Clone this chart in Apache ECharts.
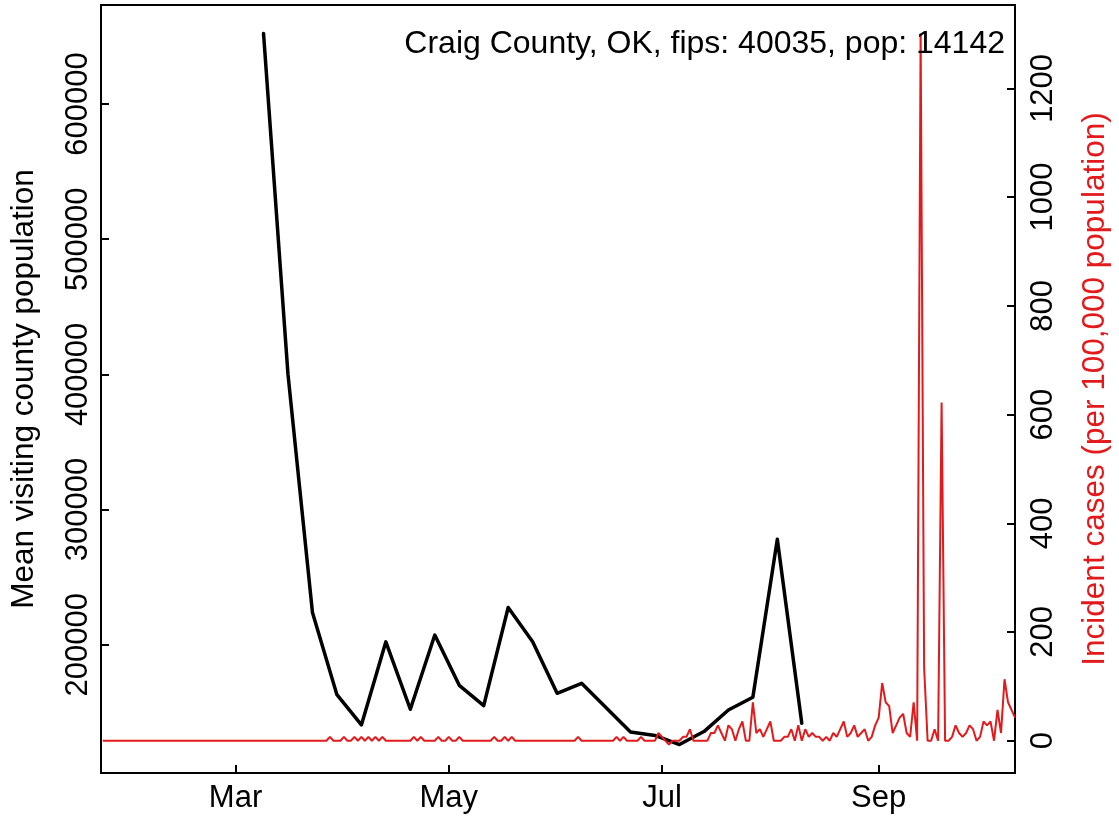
<!DOCTYPE html>
<html>
<head>
<meta charset="utf-8">
<script src="https://cdn.jsdelivr.net/npm/echarts@6/dist/echarts.min.js"></script>
<style>
html,body{margin:0;padding:0;background:#fff;}
#chart{width:1119px;height:822px;}
</style>
</head>
<body>
<div id="chart"></div>
<script>
// ---- tick labels / axis text ----
const monthNames = ['Jan','Feb','Mar','Apr','May','Jun','Jul','Aug','Sep','Oct','Nov','Dec'];
const xTickDates = ['2020-03-01','2020-05-01','2020-07-01','2020-09-01'];
const leftTicks = [200000, 300000, 400000, 500000, 600000];
const rightTicks = [0, 200, 400, 600, 800, 1000, 1200];
const titleText = 'Craig County, OK, fips: 40035, pop: 14142';
const leftAxisName = 'Mean visiting county population';
const rightAxisName = 'Incident cases (per 100,000 population)';

// ---- weekly mean visiting county population (black) ----
const mobilityDates = ['2020-03-09','2020-03-16','2020-03-23','2020-03-30','2020-04-06','2020-04-13',
  '2020-04-20','2020-04-27','2020-05-04','2020-05-11','2020-05-18','2020-05-25','2020-06-01','2020-06-08',
  '2020-06-22','2020-06-29','2020-07-06','2020-07-13','2020-07-20','2020-07-27','2020-08-03','2020-08-10'];
const mobilityValues = [652200, 400000, 223900, 163100, 140700, 202200, 152300, 207200, 170000, 155000,
  227600, 202200, 164100, 171500, 135500, 132950, 126200, 135800, 151800, 161200, 278000, 142000];

// ---- daily incident cases per 100,000 (red), starting 2020-01-23 ----
const casesStart = '2020-01-23';
const casesJan = [0,0,0,0,0,0,0,0,0];
const casesFeb = [0,0,0,0,0,0,0,0,0,0, 0,0,0,0,0,0,0,0,0,0, 0,0,0,0,0,0,0,0,0];
const casesMar = [0,0,0,0,0,0,0,0,0,0, 0,0,0,0,0,0,0,0,0,0, 0,0,0,0,0,0,0,7.07,0,0, 0];
const casesApr = [7.07,0,0,7.07,0,7.07,0,7.07,0,7.07, 0,7.07,0,0,0,0,0,0,0,0, 7.07,0,7.07,0,0,0,0,7.07,0,0];
const casesMay = [7.07,0,0,7.07,0,0,0,0,0,0, 0,0,0,7.07,0,0,7.07,0,7.07,0, 0,0,0,0,0,0,0,0,0,0, 0];
const casesJun = [0,0,0,0,0,0,7.07,0,0,0, 0,0,0,0,0,0,0,7.07,0,7.07, 0,0,0,0,7.07,0,0,0,0,14.14];
const casesJul = [7.07,0,-7.07,0,0,0,7.07,7.07,21.21,0, 0,0,0,0,14.14,14.14,28.28,14.14,0,28.28,
  21.21,0,21.21,35.36,0,0,70.71,14.14,21.21,7.07, 21.21];
const casesAug = [35.36,0,0,0,7.07,7.07,21.21,0,28.28,0, 21.21,7.07,14.14,7.07,7.07,0,7.07,0,14.14,7.07,
  21.21,35.36,7.07,14.14,28.28,7.07,14.14,21.21,0,7.07, 28.28];
const casesSep = [42.43,106.07,70.71,63.64,14.14,28.28,42.43,49.5,14.14,7.07, 70.71,0,1301.09,134.35,0,0,21.21,0,622.26,0,
  0,7.07,28.28,14.14,7.07,14.14,28.28,21.21,0,7.07];
const casesOct = [35.36,28.28,35.36,0,56.57,14.14,113.14,70.71,56.57,42.43];

function toTime(s) { const p = s.split('-').map(Number); return new Date(p[0], p[1] - 1, p[2]).getTime(); }

const casesValues = [].concat(casesJan, casesFeb, casesMar, casesApr, casesMay, casesJun, casesJul, casesAug, casesSep, casesOct);
const startParts = casesStart.split('-').map(Number);
const casesData = casesValues.map(function (v, i) {
  return [new Date(startParts[0], startParts[1] - 1, startParts[2] + i).getTime(), v];
});
const mobilityData = mobilityDates.map(function (d, i) { return [toTime(d), mobilityValues[i]]; });
const xTicks = xTickDates.map(toTime);

const FONT = '"Liberation Sans", Arial, Helvetica, sans-serif';
const RED = '#e31a1c';

const chart = echarts.init(document.getElementById('chart'), null, {renderer: 'canvas'});
chart.setOption({
  animation: false,
  backgroundColor: '#ffffff',
  grid: {left: 99, right: 99, top: 5, bottom: 49, show: true, borderColor: '#000', borderWidth: 2, backgroundColor: 'transparent'},
  graphic: [{
    type: 'text', x: 1005, y: 44, z: 100,
    style: {text: titleText, fill: '#000', font: '32px ' + FONT, align: 'right', verticalAlign: 'middle'}
  }],
  xAxis: {
    type: 'value',
    min: new Date(2020, 0, 22, 12).getTime(),
    max: new Date(2020, 9, 10).getTime(),
    axisLine: {show: false, onZero: false},
    splitLine: {show: false},
    axisTick: {show: true, inside: true, length: 8, lineStyle: {color: '#000', width: 2}, customValues: xTicks},
    axisLabel: {
      customValues: xTicks, margin: 10, color: '#000', fontSize: 31, fontFamily: FONT,
      formatter: function (v) { return monthNames[new Date(v).getMonth()]; }
    }
  },
  yAxis: [{
    type: 'value', position: 'left',
    min: 105160, max: 673240,
    name: leftAxisName, nameLocation: 'middle', nameGap: 61,
    nameTextStyle: {color: '#000', fontSize: 31.5, fontFamily: FONT},
    axisLine: {show: false, onZero: false}, splitLine: {show: false},
    axisTick: {show: true, inside: true, length: 8, lineStyle: {color: '#000', width: 2}, customValues: leftTicks},
    axisLabel: {customValues: leftTicks, rotate: 90, margin: 7, color: '#000', fontSize: 31, fontFamily: FONT,
      formatter: function (v) { return String(v); }}
  }, {
    type: 'value', position: 'right',
    min: -59.4, max: 1353.4,
    name: rightAxisName, nameLocation: 'middle', nameGap: 64, nameRotate: 90,
    nameTextStyle: {color: RED, fontSize: 31.5, fontFamily: FONT},
    axisLine: {show: false, onZero: false}, splitLine: {show: false},
    axisTick: {show: true, inside: true, length: 8, lineStyle: {color: '#000', width: 2}, customValues: rightTicks},
    axisLabel: {customValues: rightTicks, rotate: 90, margin: 13, color: '#000', fontSize: 31, fontFamily: FONT,
      formatter: function (v) { return String(v); }}
  }],
  series: [{
    type: 'line', name: 'mobility', yAxisIndex: 0, data: mobilityData,
    showSymbol: false, symbol: 'none', z: 2,
    lineStyle: {color: '#000', width: 3.5, join: 'round', cap: 'round'}
  }, {
    type: 'line', name: 'cases', yAxisIndex: 1, data: casesData,
    showSymbol: false, symbol: 'none', z: 3,
    lineStyle: {color: RED, width: 2}
  }]
});
</script>
</body>
</html>
